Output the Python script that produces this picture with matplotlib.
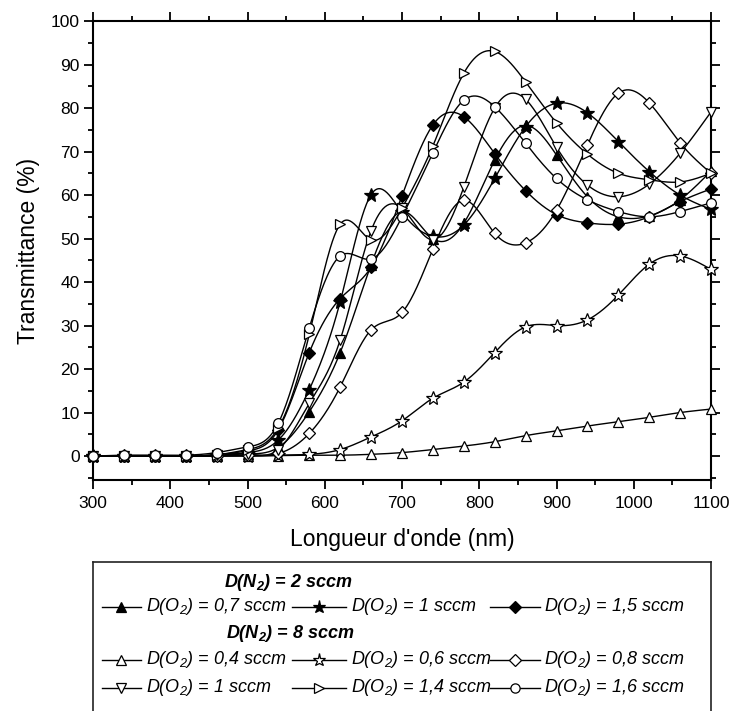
import numpy as np
import matplotlib
matplotlib.use('Agg')
import matplotlib.pyplot as plt
from matplotlib.ticker import MultipleLocator

plt.rcParams['font.family'] = ['Liberation Sans', 'DejaVu Sans']
plt.rcParams['mathtext.fontset'] = 'custom'
plt.rcParams['mathtext.rm'] = 'Liberation Sans:italic'
plt.rcParams['mathtext.it'] = 'Liberation Sans:italic'
plt.rcParams['mathtext.bf'] = 'Liberation Sans:italic:bold'

# ---------------- data ----------------
wavelength = [300, 340, 380, 420, 460, 500, 540, 580, 620, 660, 700,
              740, 780, 820, 860, 900, 940, 980, 1020, 1060, 1100]

# D(N2) = 2 sccm
t_n2_2_o2_07 = [0, 0, 0, 0, 0.2, 0.5, 2.0, 10.2, 23.8, 44, 56.2, 50, 53.5,
                68, 76, 69.2, 59.6, 55, 55.2, 58.9, 65.5]
t_n2_2_o2_10 = [0, 0, 0, 0, 0.2, 0.8, 3.7, 15.3, 35.5, 60.1, 56, 50.5, 53.1,
                63.8, 75.7, 81.1, 78.9, 72.3, 65.4, 60, 56.7]
t_n2_2_o2_15 = [0, 0, 0, 0, 0.3, 1.2, 6.1, 23.8, 36.2, 43.4, 59.8, 76.1, 78,
                69.5, 61, 55.5, 53.6, 53.3, 55, 58.5, 61.4]
# D(N2) = 8 sccm
t_n2_8_o2_04 = [0, 0, 0, 0, 0, 0, 0.1, 0.2, 0.2, 0.4, 0.8, 1.5, 2.3,
                3.3, 4.7, 5.8, 6.9, 7.9, 8.9, 10, 10.8]
t_n2_8_o2_06 = [0, 0, 0, 0, 0, 0, 0.2, 0.4, 1.5, 4.4, 8.1, 13.3, 17,
                23.8, 29.7, 30, 31.3, 37, 44.1, 46, 42.9]
t_n2_8_o2_08 = [0, 0, 0, 0, 0, 0.2, 0.6, 5.2, 15.9, 29, 33, 47.6, 58.8,
                51.2, 49, 56.5, 71.5, 83.4, 81.2, 72, 65]
t_n2_8_o2_10 = [0, 0, 0, 0, 0.2, 0.5, 1.5, 12.1, 26.7, 51.8, 57, 49.7, 61.8,
                80, 82, 71, 62.3, 59.6, 62.5, 69.6, 79.1]
t_n2_8_o2_14 = [0, 0, 0, 0, 0.3, 1.5, 6.5, 28, 53.3, 49.7, 57, 71.3, 88,
                93, 86, 76.6, 69.4, 65, 63.5, 63, 65]
t_n2_8_o2_16 = [0, 0.2, 0.2, 0.2, 0.8, 2.1, 7.6, 29.5, 46, 45.3, 55, 69.7, 81.8,
                80.3, 71.9, 63.8, 58.9, 56.2, 55, 56.2, 58.2]

labels_2 = ['0,7', '1', '1,5']
labels_8 = ['0,4', '0,6', '0,8', '1', '1,4', '1,6']

series_2 = [t_n2_2_o2_07, t_n2_2_o2_10, t_n2_2_o2_15]
series_8 = [t_n2_8_o2_04, t_n2_8_o2_06, t_n2_8_o2_08,
            t_n2_8_o2_10, t_n2_8_o2_14, t_n2_8_o2_16]

# styles (marker, size, filled)
styles_2 = [('^', 7.8, True), ('*', 10, True), ('D', 6.5, True)]
styles_8 = [('^', 7.8, False), ('*', 10, False), ('D', 6.5, False),
            ('v', 7.8, False), ('>', 7.8, False), ('o', 7, False)]


def natural_spline(x, y, n=600):
    x = np.asarray(x, float)
    y = np.asarray(y, float)
    N = len(x)
    h = np.diff(x)
    A = np.zeros((N, N))
    b = np.zeros(N)
    A[0, 0] = 1
    A[-1, -1] = 1
    for i in range(1, N - 1):
        A[i, i - 1] = h[i - 1]
        A[i, i] = 2 * (h[i - 1] + h[i])
        A[i, i + 1] = h[i]
        b[i] = 6 * ((y[i + 1] - y[i]) / h[i] - (y[i] - y[i - 1]) / h[i - 1])
    M = np.linalg.solve(A, b)
    xx = np.linspace(x[0], x[-1], n)
    idx = np.clip(np.searchsorted(x, xx) - 1, 0, N - 2)
    x0, x1 = x[idx], x[idx + 1]
    hh = x1 - x0
    yy = (M[idx] * (x1 - xx) ** 3 / (6 * hh) + M[idx + 1] * (xx - x0) ** 3 / (6 * hh)
          + (y[idx] / hh - M[idx] * hh / 6) * (x1 - xx)
          + (y[idx + 1] / hh - M[idx + 1] * hh / 6) * (xx - x0))
    return xx, yy


W, H = 733, 711
fig = plt.figure(figsize=(W / 100, H / 100), dpi=100)
ax = fig.add_axes([93 / W, 1 - 480 / H, (711 - 93) / W, (480 - 21) / H])

for data, (m, ms, filled) in zip(series_2 + series_8, styles_2 + styles_8):
    xx, yy = natural_spline(wavelength, data)
    ax.plot(xx, yy, color='black', lw=1.0, zorder=2, clip_on=False)
    ax.plot(wavelength, data, linestyle='none', marker=m, markersize=ms,
            markerfacecolor='black' if filled else 'white',
            markeredgecolor='black', markeredgewidth=0.9, zorder=3, clip_on=False)

ax.set_xlim(300, 1100)
ax.set_ylim(-5.5, 100)
ax.xaxis.set_major_locator(MultipleLocator(100))
ax.xaxis.set_minor_locator(MultipleLocator(50))
ax.yaxis.set_major_locator(MultipleLocator(10))
ax.yaxis.set_minor_locator(MultipleLocator(5))
ax.tick_params(which='both', direction='out', top=True, right=True,
               labelsize=12.5, width=1.3)
ax.tick_params(axis='x', which='both', pad=5)
ax.tick_params(axis='y', which='both', pad=3)
ax.tick_params(which='major', length=6.5)
ax.tick_params(which='minor', length=3.5)
for s in ax.spines.values():
    s.set_linewidth(1.5)
ax.set_xlabel("Longueur d'onde (nm)", fontsize=16.5, labelpad=12)
ax.set_ylabel('Transmittance (%)', fontsize=16.5, labelpad=8)

# ---------------- legend (pixel coordinates of the figure) ----------------
L, R, T, B = 93, 711, 562, 713
lax = fig.add_axes([L / W, 1 - B / H, (R - L) / W, (B - T) / H])
lax.set_xlim(L, R)
lax.set_ylim(B, T)
lax.set_xticks([])
lax.set_yticks([])
for s in lax.spines.values():
    s.set_linewidth(1.2)
    s.set_color('#222222')

col_line = [(102, 141), (292, 346), (490, 540)]
col_text = [146, 351, 544]
fs = 13


def legend_entry(col, y, style, label):
    m, ms, filled = style
    x0, x1 = col_line[col]
    lax.plot([x0, x1], [y, y], color='black', lw=1.0)
    lax.plot([(x0 + x1) / 2], [y], marker=m, markersize=ms * 0.95,
             markerfacecolor='black' if filled else 'white',
             markeredgecolor='black', markeredgewidth=0.9)
    lax.text(col_text[col], y, r'D(O$_2$) = %s sccm' % label, fontsize=fs,
             style='italic', va='center', ha='left')


lax.text(224, 583, r'D(N$_\mathbf{2}$) = 2 sccm', fontsize=fs, style='italic',
         fontweight='bold', va='center', ha='left')
for i in range(3):
    legend_entry(i, 607, styles_2[i], labels_2[i])
lax.text(226, 634, r'D(N$_\mathbf{2}$) = 8 sccm', fontsize=fs, style='italic',
         fontweight='bold', va='center', ha='left')
for i in range(6):
    legend_entry(i % 3, 660 if i < 3 else 688, styles_8[i], labels_8[i])

fig.savefig('out.png', dpi=100)
